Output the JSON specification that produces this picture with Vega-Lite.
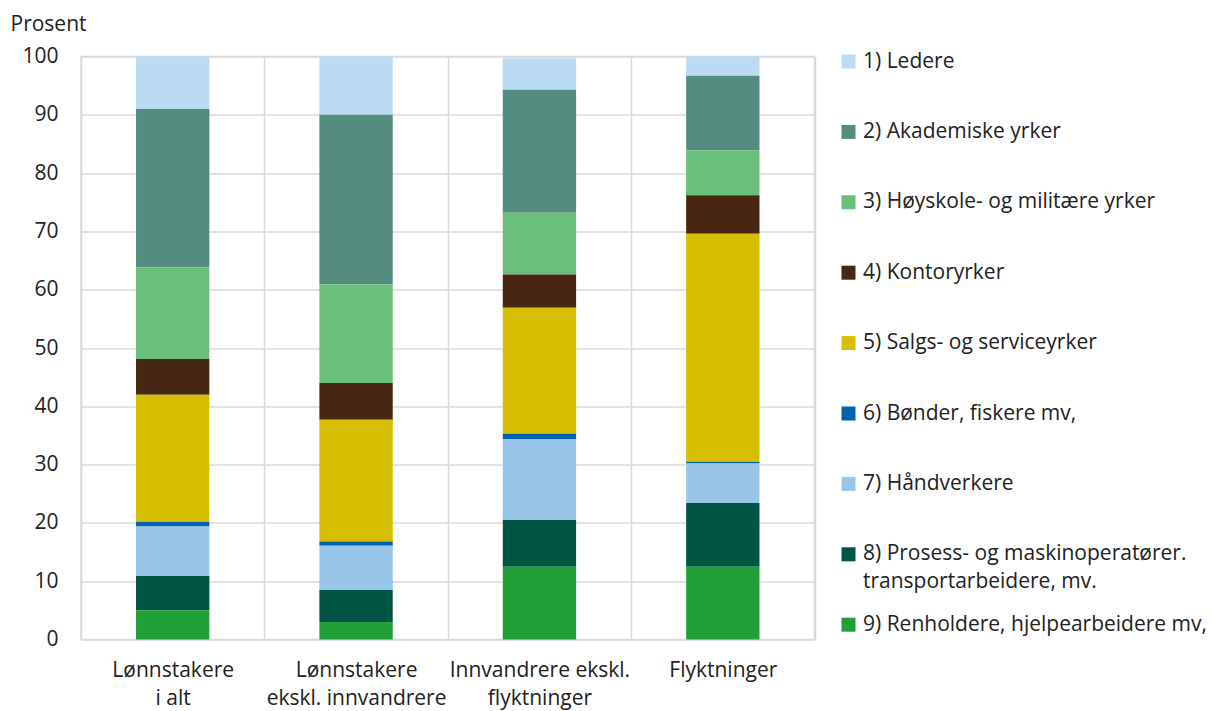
{
  "$schema": "https://vega.github.io/schema/vega-lite/v6.json",
  "width": 733.5,
  "height": 583,
  "autosize": {"type": "none"},
  "padding": {"left": 81, "top": 56.5, "right": 397.5, "bottom": 71.5},
  "background": "white",
  "config": {
    "font": "Open Sans",
    "view": {"stroke": "#d9d9d9", "strokeWidth": 1.5},
    "axis": {"labelFont": "Open Sans", "titleFont": "Open Sans", "labelColor": "#222", "titleColor": "#222"},
    "legend": {"labelFont": "Open Sans", "labelColor": "#222"}
  },
  "data": {
    "values": [
      {"kategori": "Lønnstakere i alt", "nr": 1, "yrke": "1) Ledere", "andel": 9.0},
      {"kategori": "Lønnstakere i alt", "nr": 2, "yrke": "2) Akademiske yrker", "andel": 27.2},
      {"kategori": "Lønnstakere i alt", "nr": 3, "yrke": "3) Høyskole- og militære yrker", "andel": 15.7},
      {"kategori": "Lønnstakere i alt", "nr": 4, "yrke": "4) Kontoryrker", "andel": 6.1},
      {"kategori": "Lønnstakere i alt", "nr": 5, "yrke": "5) Salgs- og serviceyrker", "andel": 21.8},
      {"kategori": "Lønnstakere i alt", "nr": 6, "yrke": "6) Bønder, fiskere mv,", "andel": 0.8},
      {"kategori": "Lønnstakere i alt", "nr": 7, "yrke": "7) Håndverkere", "andel": 8.5},
      {"kategori": "Lønnstakere i alt", "nr": 8, "yrke": "8) Prosess- og maskinoperatører. transportarbeidere, mv.", "andel": 5.9},
      {"kategori": "Lønnstakere i alt", "nr": 9, "yrke": "9) Renholdere, hjelpearbeidere mv,", "andel": 5.0},
      {"kategori": "Lønnstakere ekskl. innvandrere", "nr": 1, "yrke": "1) Ledere", "andel": 10.0},
      {"kategori": "Lønnstakere ekskl. innvandrere", "nr": 2, "yrke": "2) Akademiske yrker", "andel": 29.1},
      {"kategori": "Lønnstakere ekskl. innvandrere", "nr": 3, "yrke": "3) Høyskole- og militære yrker", "andel": 16.9},
      {"kategori": "Lønnstakere ekskl. innvandrere", "nr": 4, "yrke": "4) Kontoryrker", "andel": 6.3},
      {"kategori": "Lønnstakere ekskl. innvandrere", "nr": 5, "yrke": "5) Salgs- og serviceyrker", "andel": 20.9},
      {"kategori": "Lønnstakere ekskl. innvandrere", "nr": 6, "yrke": "6) Bønder, fiskere mv,", "andel": 0.7},
      {"kategori": "Lønnstakere ekskl. innvandrere", "nr": 7, "yrke": "7) Håndverkere", "andel": 7.6},
      {"kategori": "Lønnstakere ekskl. innvandrere", "nr": 8, "yrke": "8) Prosess- og maskinoperatører. transportarbeidere, mv.", "andel": 5.5},
      {"kategori": "Lønnstakere ekskl. innvandrere", "nr": 9, "yrke": "9) Renholdere, hjelpearbeidere mv,", "andel": 3.0},
      {"kategori": "Innvandrere ekskl. flyktninger", "nr": 1, "yrke": "1) Ledere", "andel": 5.4},
      {"kategori": "Innvandrere ekskl. flyktninger", "nr": 2, "yrke": "2) Akademiske yrker", "andel": 21.1},
      {"kategori": "Innvandrere ekskl. flyktninger", "nr": 3, "yrke": "3) Høyskole- og militære yrker", "andel": 10.6},
      {"kategori": "Innvandrere ekskl. flyktninger", "nr": 4, "yrke": "4) Kontoryrker", "andel": 5.7},
      {"kategori": "Innvandrere ekskl. flyktninger", "nr": 5, "yrke": "5) Salgs- og serviceyrker", "andel": 21.6},
      {"kategori": "Innvandrere ekskl. flyktninger", "nr": 6, "yrke": "6) Bønder, fiskere mv,", "andel": 0.9},
      {"kategori": "Innvandrere ekskl. flyktninger", "nr": 7, "yrke": "7) Håndverkere", "andel": 13.9},
      {"kategori": "Innvandrere ekskl. flyktninger", "nr": 8, "yrke": "8) Prosess- og maskinoperatører. transportarbeidere, mv.", "andel": 8.0},
      {"kategori": "Innvandrere ekskl. flyktninger", "nr": 9, "yrke": "9) Renholdere, hjelpearbeidere mv,", "andel": 12.5},
      {"kategori": "Flyktninger", "nr": 1, "yrke": "1) Ledere", "andel": 3.3},
      {"kategori": "Flyktninger", "nr": 2, "yrke": "2) Akademiske yrker", "andel": 12.8},
      {"kategori": "Flyktninger", "nr": 3, "yrke": "3) Høyskole- og militære yrker", "andel": 7.7},
      {"kategori": "Flyktninger", "nr": 4, "yrke": "4) Kontoryrker", "andel": 6.6},
      {"kategori": "Flyktninger", "nr": 5, "yrke": "5) Salgs- og serviceyrker", "andel": 39.1},
      {"kategori": "Flyktninger", "nr": 6, "yrke": "6) Bønder, fiskere mv,", "andel": 0.3},
      {"kategori": "Flyktninger", "nr": 7, "yrke": "7) Håndverkere", "andel": 6.8},
      {"kategori": "Flyktninger", "nr": 8, "yrke": "8) Prosess- og maskinoperatører. transportarbeidere, mv.", "andel": 10.9},
      {"kategori": "Flyktninger", "nr": 9, "yrke": "9) Renholdere, hjelpearbeidere mv,", "andel": 12.5}
    ]
  },
  "mark": {"type": "bar", "width": {"band": 0.4}},
  "encoding": {
    "x": {
      "field": "kategori",
      "type": "nominal",
      "sort": null,
      "scale": {"paddingInner": 0, "paddingOuter": 0},
      "axis": {
        "title": null,
        "labelAngle": 0,
        "labelFontSize": 21,
        "labelBaseline": "top",
        "labelLineHeight": 27.5,
        "labelPadding": 20,
        "labelLimit": 300,
        "labelExpr": "datum.value == 'Lønnstakere i alt' ? ['Lønnstakere', 'i alt'] : datum.value == 'Lønnstakere ekskl. innvandrere' ? ['Lønnstakere', 'ekskl. innvandrere'] : datum.value == 'Innvandrere ekskl. flyktninger' ? ['Innvandrere ekskl.', 'flyktninger'] : datum.value",
        "ticks": false,
        "tickSize": 0,
        "domain": false,
        "grid": true,
        "tickBand": "extent",
        "gridColor": "#d9d9d9",
        "gridWidth": 1.5
      }
    },
    "y": {
      "field": "andel",
      "type": "quantitative",
      "stack": "zero",
      "scale": {"domain": [0, 100], "nice": false},
      "axis": {
        "title": "Prosent",
        "titleAngle": 0,
        "titleAlign": "left",
        "titleBaseline": "alphabetic",
        "titleX": -71,
        "titleY": -26.5,
        "titleFontSize": 21,
        "titleFontWeight": "normal",
        "values": [0, 10, 20, 30, 40, 50, 60, 70, 80, 90, 100],
        "labelFontSize": 21,
        "labelPadding": 23,
        "ticks": false,
        "tickSize": 0,
        "domain": false,
        "grid": true,
        "gridColor": "#d9d9d9",
        "gridWidth": 1.5
      }
    },
    "color": {
      "field": "yrke",
      "type": "nominal",
      "scale": {
        "domain": [
          "1) Ledere",
          "2) Akademiske yrker",
          "3) Høyskole- og militære yrker",
          "4) Kontoryrker",
          "5) Salgs- og serviceyrker",
          "6) Bønder, fiskere mv,",
          "7) Håndverkere",
          "8) Prosess- og maskinoperatører. transportarbeidere, mv.",
          "9) Renholdere, hjelpearbeidere mv,"
        ],
        "range": ["#bbdaf3", "#548c80", "#6abf7b", "#482614", "#d6be00", "#0062b1", "#97c6ea", "#005545", "#22a038"]
      },
      "legend": {
        "title": null,
        "orient": "none",
        "legendX": 757,
        "legendY": -5.5,
        "padding": 0,
        "symbolType": "square",
        "symbolSize": 196,
        "symbolStrokeWidth": 0,
        "labelFontSize": 21,
        "labelOffset": 4,
        "labelLimit": 400,
        "gridAlign": "all",
        "rowPadding": 21.4,
        "labelExpr": "indexof(datum.label, '8)') == 0 ? ['8) Prosess- og maskinoperatører.', 'transportarbeidere, mv.'] : datum.label",
        "encode": {"labels": {"update": {"lineHeight": {"value": 27.5}}}}
      }
    },
    "order": {"field": "nr", "type": "quantitative", "sort": "descending"}
  }
}
